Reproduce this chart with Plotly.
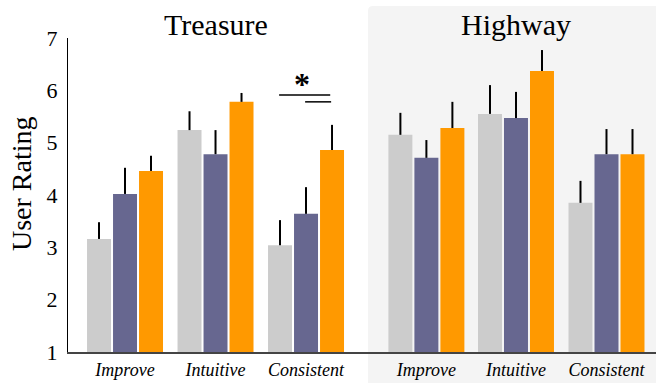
import plotly.graph_objects as go

# ---------------- data ----------------
categories = ["Improve", "Intuitive", "Consistent", "Improve", "Intuitive", "Consistent"]
cat_pos = [0, 1, 2, 3.33, 4.32, 5.32]          # category centres (Treasure 0-2, Highway 3.33-5.32)
group_titles = ["Treasure", "Highway"]

gray_mean = [3.16, 5.24, 3.04, 5.15, 5.55, 3.85]
gray_top = [3.48, 5.60, 3.52, 5.57, 6.10, 4.27]
purple_mean = [4.02, 4.78, 3.64, 4.71, 5.47, 4.78]
purple_top = [4.52, 5.24, 4.15, 5.05, 5.97, 5.26]
orange_mean = [4.46, 5.78, 4.86, 5.28, 6.37, 4.78]
orange_top = [4.75, 5.95, 5.34, 5.78, 6.77, 5.26]

y_ticks = [1, 2, 3, 4, 5, 6, 7]

# ---------------- style ----------------
SERIF = "Liberation Serif"
W, H = 656, 383
ML, MR, MT, MB = 68, 0, 38, 31
BAR_W = 0.265
PITCH = 0.2873

series = [
    (gray_mean, gray_top, "#cccccc", -PITCH),
    (purple_mean, purple_top, "#676790", 0.0),
    (orange_mean, orange_top, "#ff9900", PITCH),
]

fig = go.Figure()
for mean, top, color, shift in series:
    fig.add_trace(go.Bar(
        x=cat_pos, y=[m - 1 for m in mean], base=1,
        width=BAR_W, offset=shift - BAR_W / 2,
        marker=dict(color=color, line=dict(width=0)),
        error_y=dict(type="data", symmetric=False,
                     array=[t - m for t, m in zip(top, mean)],
                     arrayminus=[0] * len(mean),
                     color="black", thickness=2, width=0),
        showlegend=False, hoverinfo="skip",
    ))

x_range = [-0.63, 5.867]
plot_w = W - ML - MR
plot_h = H - MT - MB

def px_to_paper_x(px):
    return (px - ML) / plot_w

def px_to_paper_y(py):
    return (H - MB - py) / plot_h

# Highway shaded panel (rounded top-left corner)
x0 = px_to_paper_x(368)
x1 = 1.01
y0 = px_to_paper_y(390)
y1 = px_to_paper_y(6)
rx = 5 / plot_w
ry = 5 / plot_h
path = (f"M {x0 + rx},{y1} L {x1},{y1} L {x1},{y0} L {x0},{y0} "
        f"L {x0},{y1 - ry} Q {x0},{y1} {x0 + rx},{y1} Z")
fig.add_shape(type="path", path=path, xref="paper", yref="paper",
              fillcolor="#f4f4f4", line=dict(width=0), layer="below")

# significance bracket on Treasure / Consistent
ci = 2
g_x = cat_pos[ci] - PITCH
p_x = cat_pos[ci]
o_x = cat_pos[ci] + PITCH
fig.add_shape(type="line", x0=g_x - 0.01, x1=o_x - 0.02, y0=5.91, y1=5.91,
              line=dict(color="black", width=1.5))
fig.add_shape(type="line", x0=p_x - 0.01, x1=o_x - 0.01, y0=5.78, y1=5.78,
              line=dict(color="black", width=1.5))
fig.add_annotation(x=(g_x + o_x) / 2 - 0.04, y=5.74, text="<b>*</b>", showarrow=False,
                   font=dict(family=SERIF, size=32, color="black"),
                   xanchor="center", yanchor="bottom")

# group titles
fig.add_annotation(x=cat_pos[1], y=px_to_paper_y(25), yref="paper", text=group_titles[0],
                   showarrow=False, font=dict(family=SERIF, size=30, color="black"),
                   xanchor="center", yanchor="middle")
fig.add_annotation(x=cat_pos[4], y=px_to_paper_y(25), yref="paper", text=group_titles[1],
                   showarrow=False, font=dict(family=SERIF, size=30, color="black"),
                   xanchor="center", yanchor="middle")

# y-axis title
fig.add_annotation(x=px_to_paper_x(21), xref="paper", y=px_to_paper_y(184), yref="paper",
                   text="User Rating", textangle=-90, showarrow=False,
                   font=dict(family=SERIF, size=28, color="black"),
                   xanchor="center", yanchor="middle")

fig.update_layout(
    width=W, height=H,
    margin=dict(l=ML, r=MR, t=MT, b=MB, pad=0),
    paper_bgcolor="white", plot_bgcolor="rgba(0,0,0,0)",
    barmode="overlay",
    xaxis=dict(range=x_range, tickvals=cat_pos, ticktext=categories,
               showgrid=False, zeroline=False, showline=True,
               linecolor="#444444", linewidth=1.5, ticks="",
               tickfont=dict(family=SERIF, size=18, color="black", style="italic"),
               ticklabelstandoff=1),
    yaxis=dict(range=[1, 7], tickvals=y_ticks, showgrid=False, zeroline=False,
               showline=True, linecolor="black", linewidth=1, ticks="",
               tickfont=dict(family=SERIF, size=22, color="black"),
               ticklabelstandoff=5),
    font=dict(family=SERIF),
)

fig.write_html("out.html")
